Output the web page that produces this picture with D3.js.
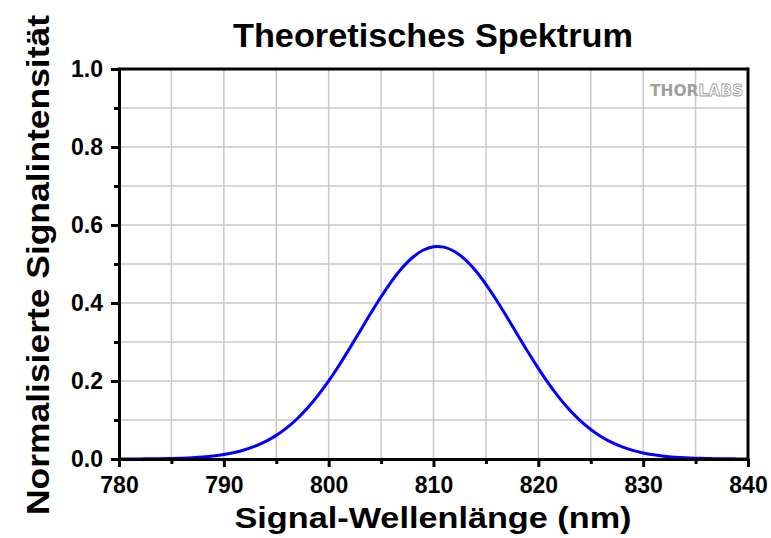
<!DOCTYPE html>
<html>
<head>
<meta charset="utf-8">
<script src="https://cdn.jsdelivr.net/npm/d3@7"></script>
<style>
  body { margin: 0; background: #fff; }
  text { font-family: "Liberation Sans", Arial, sans-serif; font-weight: bold; }
</style>
</head>
<body>
<div id="chart"></div>
<script>
// wavelengths (nm) and normalised intensity
var wavelength = [780,781,782,783,784,785,786,787,788,789,790,791,792,793,794,795,796,797,798,799,
  800,801,802,803,804,805,806,807,808,809,810,811,812,813,814,815,816,817,818,819,
  820,821,822,823,824,825,826,827,828,829,830,831,832,833,834,835,836,837,838,839,840];
var intensity = [0.0001,0.0002,0.0003,0.0005,0.0009,0.0014,0.0022,0.0034,0.0052,0.0079,
  0.0116,0.0167,0.0237,0.0330,0.0452,0.0606,0.0799,0.1033,0.1312,0.1636,
  0.2002,0.2405,0.2836,0.3283,0.3730,0.4160,0.4556,0.4897,0.5167,0.5352,
  0.5442,0.5432,0.5322,0.5119,0.4834,0.4480,0.4077,0.3641,0.3193,0.2748,
  0.2322,0.1926,0.1568,0.1253,0.0983,0.0757,0.0572,0.0425,0.0310,0.0221,
  0.0155,0.0107,0.0072,0.0048,0.0031,0.0020,0.0013,0.0008,0.0005,0.0003,0.0002];
var xTicks = [780, 790, 800, 810, 820, 830, 840];
var yTicks = [0.0, 0.2, 0.4, 0.6, 0.8, 1.0];

var svgWidth = 771, svgHeight = 538;
var margin = { left: 119, top: 69, right: 23, bottom: 79 };
var chartWidth = svgWidth - margin.left - margin.right;
var chartHeight = svgHeight - margin.top - margin.bottom;

var svg = d3.select("#chart").append("svg")
    .attr("width", svgWidth)
    .attr("height", svgHeight);

var chartGroup = svg.append("g")
    .attr("transform", `translate(${margin.left}, ${margin.top})`);

var xScale = d3.scaleLinear().domain([780, 840]).range([0, chartWidth]);
var yScale = d3.scaleLinear().domain([0, 1]).range([chartHeight, 0]);

// grid
chartGroup.append("g")
    .selectAll("line.vg")
    .data(d3.range(785, 840, 5))
    .enter().append("line")
    .attr("x1", d => xScale(d)).attr("x2", d => xScale(d))
    .attr("y1", 0).attr("y2", chartHeight)
    .attr("stroke", "#c8c8c8").attr("stroke-width", 1.5);

chartGroup.append("g")
    .selectAll("line.hg")
    .data(d3.range(1, 10).map(d => d / 10))
    .enter().append("line")
    .attr("x1", 0).attr("x2", chartWidth)
    .attr("y1", d => yScale(d)).attr("y2", d => yScale(d))
    .attr("stroke", "#c8c8c8").attr("stroke-width", 1.5);

// logo
var logo = chartGroup.append("text")
    .attr("x", chartWidth - 5)
    .attr("y", 27)
    .attr("text-anchor", "end")
    .attr("textLength", 93)
    .attr("lengthAdjust", "spacingAndGlyphs")
    .style("font-size", "16px")
    .style("font-family", "'DejaVu Sans', sans-serif");
logo.append("tspan").attr("fill", "#a0a0a0").text("THOR");
logo.append("tspan").attr("fill", "#fff").attr("stroke", "#a0a0a0").attr("stroke-width", 0.9).text("LABS");

// curve
var line = d3.line()
    .x((d, i) => xScale(wavelength[i]))
    .y(d => yScale(d))
    .curve(d3.curveCatmullRom);

chartGroup.append("path")
    .datum(intensity)
    .attr("fill", "none")
    .attr("stroke", "#0000ff")
    .attr("stroke-width", 3)
    .attr("d", line);

// axes
var xAxis = d3.axisBottom(xScale).tickValues(xTicks).tickFormat(d3.format("d")).tickSize(8).tickSizeOuter(0).tickPadding(10);
var xMinor = d3.axisBottom(xScale).tickValues(d3.range(785, 840, 10)).tickFormat("").tickSize(5).tickSizeOuter(0);
var yAxis = d3.axisLeft(yScale).tickValues(yTicks).tickFormat(d3.format(".1f")).tickSize(8).tickSizeOuter(0).tickPadding(8);
var yMinor = d3.axisLeft(yScale).tickValues([0.1, 0.3, 0.5, 0.7, 0.9]).tickFormat("").tickSize(5).tickSizeOuter(0);

function styleAxis(g) {
    g.selectAll("path").attr("stroke", "#000").attr("stroke-width", 3);
    g.selectAll("line").attr("stroke", "#000").attr("stroke-width", 3);
    g.selectAll("text").attr("fill", "#000").style("font-size", "23px");
}

chartGroup.append("g").attr("transform", `translate(0, ${chartHeight})`).call(xMinor).call(styleAxis);
chartGroup.append("g").attr("transform", `translate(0, ${chartHeight})`).call(xAxis).call(styleAxis);
chartGroup.append("g").call(yMinor).call(styleAxis);
chartGroup.append("g").call(yAxis).call(styleAxis);

// frame top/right
chartGroup.append("line").attr("x1", -1.5).attr("x2", chartWidth).attr("y1", 0).attr("y2", 0)
    .attr("stroke", "#000").attr("stroke-width", 3);
chartGroup.append("line").attr("x1", chartWidth).attr("x2", chartWidth).attr("y1", -1.5).attr("y2", chartHeight + 1.5)
    .attr("stroke", "#000").attr("stroke-width", 3);

// titles
svg.append("text")
    .attr("x", 433).attr("y", 47)
    .attr("text-anchor", "middle")
    .attr("textLength", 400)
    .attr("lengthAdjust", "spacingAndGlyphs")
    .style("font-size", "33px")
    .text("Theoretisches Spektrum");

svg.append("text")
    .attr("x", 433).attr("y", 528)
    .attr("text-anchor", "middle")
    .attr("textLength", 397)
    .attr("lengthAdjust", "spacingAndGlyphs")
    .style("font-size", "30px")
    .text("Signal-Wellenlänge (nm)");

svg.append("text")
    .attr("transform", "rotate(-90)")
    .attr("x", -265).attr("y", 49)
    .attr("text-anchor", "middle")
    .attr("textLength", 500)
    .attr("lengthAdjust", "spacingAndGlyphs")
    .style("font-size", "31px")
    .text("Normalisierte Signalintensität");
</script>
</body>
</html>
